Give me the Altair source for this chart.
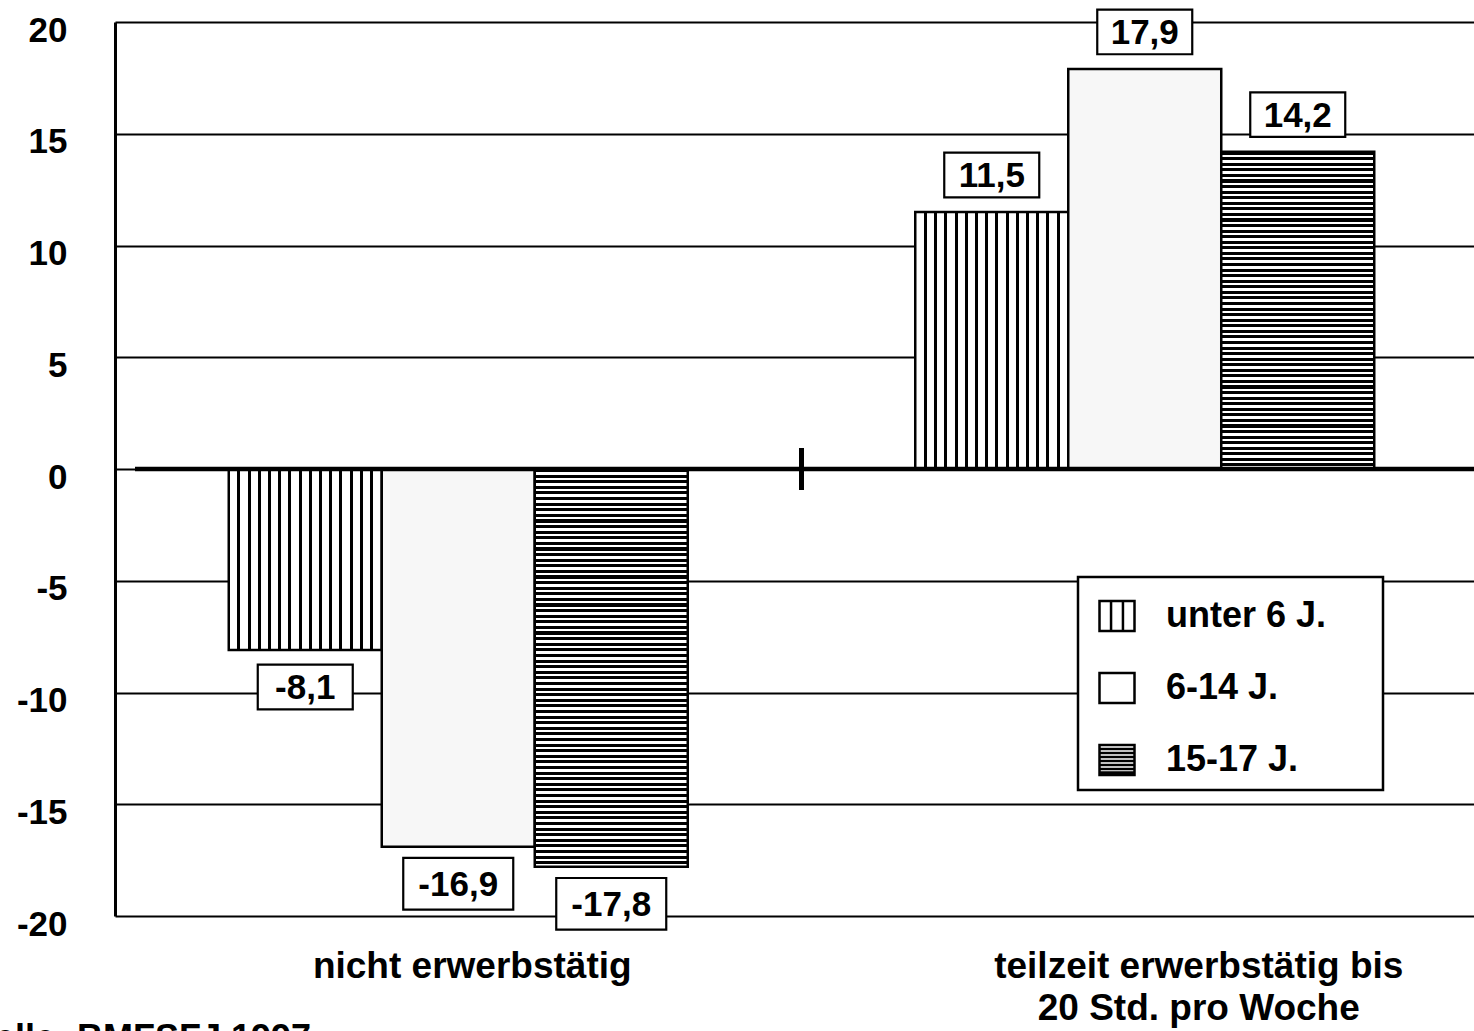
import altair as alt
import pandas as pd

# ---- data -------------------------------------------------------------
groups = ["nicht erwerbstätig", "teilzeit erwerbstätig bis\n20 Std. pro Woche"]
ages = ["unter 6 J.", "6-14 J.", "15-17 J."]
nicht_erwerbstaetig = [-8.1, -16.9, -17.8]
teilzeit_bis_20 = [11.5, 17.9, 14.2]
y_ticks = [-20, -15, -10, -5, 0, 5, 10, 15, 20]
source_note = "Quelle: BMFSFJ 1997"

rows = []
for g, vals in zip(groups, [nicht_erwerbstaetig, teilzeit_bis_20]):
    for a, v in zip(ages, vals):
        rows.append({"group": g, "age": a, "value": v,
                     "label": f"{v:.1f}".replace(".", ",")})
df = pd.DataFrame(rows)

# ---- layout -----------------------------------------------------------
FONT = "Liberation Sans"
PLOT_W, PLOT_H = 1359, 894
X_RANGE = 1373                # the frame runs a little past the right edge
PX_PER_UNIT = PLOT_H / 40.0


def vertical_stripes(n_lines=14, half=0.0098):
    stops = [alt.GradientStop(color="white", offset=0)]
    for k in range(1, n_lines + 1):
        c = k / (n_lines + 1)
        stops += [alt.GradientStop(color="white", offset=c - half),
                  alt.GradientStop(color="black", offset=c - half),
                  alt.GradientStop(color="black", offset=c + half),
                  alt.GradientStop(color="white", offset=c + half)]
    stops.append(alt.GradientStop(color="white", offset=1))
    return alt.LinearGradient(gradient="linear", stops=stops,
                              x1=0, y1=0, x2=1, y2=0)


def horizontal_stripes(value, spacing=5.6, dark=0.55):
    n = max(1, round(abs(value) * PX_PER_UNIT / spacing))
    stops = []
    for i in range(n):
        a, b, e = i / n, (i + dark) / n, (i + 1) / n
        stops += [alt.GradientStop(color="black", offset=a),
                  alt.GradientStop(color="black", offset=b),
                  alt.GradientStop(color="white", offset=b),
                  alt.GradientStop(color="white", offset=e)]
    return alt.LinearGradient(gradient="linear", stops=stops,
                              x1=0, y1=0, x2=0, y2=1)


x_scale = alt.Scale(domain=groups, range=[0, X_RANGE],
                    paddingInner=0, paddingOuter=0)
x_enc = alt.X("group:N", scale=x_scale, axis=None)
xo_enc = alt.XOffset("age:N", scale=alt.Scale(domain=ages, paddingInner=0,
                                                 paddingOuter=0.7435))
y_scale = alt.Scale(domain=[-20, 20], nice=False)
y_axis = alt.Axis(values=y_ticks, title=None, ticks=False, grid=True,
                  gridColor="black", gridWidth=1.8, gridOpacity=1,
                  domain=True, domainColor="black", domainWidth=3,
                  labelExpr="toString(datum.value)",
                  labelFont=FONT, labelFontSize=35, labelFontWeight="bold",
                  labelColor="black", labelPadding=48, labelOffset=8)
y_enc = alt.Y("value:Q", scale=y_scale, axis=y_axis)
enc = dict(x=x_enc, xOffset=xo_enc, y=y_enc)

base = alt.Chart(df)
bar_style = dict(stroke="black", strokeWidth=2.5)

bars_u6 = base.transform_filter(alt.datum.age == ages[0]).mark_bar(
    fill=vertical_stripes(), **bar_style).encode(**enc)
bars_614 = base.transform_filter(alt.datum.age == ages[1]).mark_bar(
    fill="#f7f7f7", **bar_style).encode(**enc)
bars_1517 = [
    base.transform_filter((alt.datum.age == ages[2]) & (alt.datum.group == g))
    .mark_bar(fill=horizontal_stripes(vals[2]), **bar_style).encode(**enc)
    for g, vals in zip(groups, [nicht_erwerbstaetig, teilzeit_bis_20])
]

# thick zero line (starting just right of the frame) and the group divider
zero_line = alt.Chart(pd.DataFrame({"k": [0]})).mark_rule(
    color="black", strokeWidth=4.5
).encode(x=alt.value(20), x2=alt.value(PLOT_W),
         y=alt.YDatum(0, scale=y_scale, axis=y_axis))

divider = alt.Chart(pd.DataFrame({"group": [groups[1]]})).mark_rule(
    color="black", strokeWidth=5, yOffset=-21, y2Offset=21
).encode(x=alt.X("group:N", scale=x_scale, axis=None, bandPosition=0),
         y=alt.YDatum(0, scale=y_scale, axis=y_axis), y2=alt.Y2Datum(0))

# boxed value labels
BOX = "M-1,-0.47L1,-0.47L1,0.47L-1,0.47Z"
label_layers = []
for test, off in [("datum.value < 0", 37), ("datum.value >= 0", -37)]:
    sub = base.transform_filter(test)
    box = sub.transform_calculate(
        bw="pow(15 * length(datum.label) + 35, 2)"
    ).mark_point(shape=BOX, filled=True, fill="white", stroke="black",
                 strokeWidth=2.2, opacity=1, yOffset=off
    ).encode(size=alt.Size("bw:Q", scale=None), **enc)
    txt = sub.mark_text(font=FONT, fontSize=35, fontWeight="bold",
                        color="black", baseline="middle", dy=off + 1
    ).encode(text="label:N", **enc)
    label_layers += [box, txt]

# legend: white framed box with patterned swatches
legend_frame = alt.Chart(pd.DataFrame({"k": [0]})).mark_rect(
    fill="white", stroke="black", strokeWidth=2.5
).encode(x=alt.value(963), x2=alt.value(1268),
         y=alt.value(555), y2=alt.value(768))

SW = "M-1,-0.857L1,-0.857L1,0.857L-1,0.857Z"
sw_vertical = SW + "".join(f"M{x},-0.857L{x},0.857" for x in (-0.34, 0.34))
sw_plain = SW
sw_horizontal = SW + "".join(
    f"M-1,{y}L1,{y}" for y in (-0.63, -0.4, -0.17, 0.06, 0.29, 0.52, 0.71))

# a layer with no rows whose only job is to carry the shape legend
legend_layer = base.transform_filter("false").mark_point(
    filled=False, color="black", strokeWidth=2, opacity=1
).encode(
    shape=alt.Shape("age:N",
                    scale=alt.Scale(domain=ages,
                                    range=[sw_vertical, sw_plain, sw_horizontal]),
                    legend=alt.Legend(
                        title=None, orient="none", legendX=963, legendY=555,
                        padding=20, rowPadding=32, labelOffset=30,
                        symbolSize=1225, symbolStrokeWidth=2.5,
                        symbolStrokeColor="black", symbolOpacity=1,
                        labelFont=FONT, labelFontSize=36,
                        labelFontWeight="bold", labelColor="black",
                        labelLimit=400)),
    **enc)

# category labels under the plot
cat_labels = [
    alt.Chart(pd.DataFrame({"group": [g]})).mark_text(
        font=FONT, fontSize=37, fontWeight="bold", color="black",
        baseline="alphabetic", align="center", lineBreak="\n",
        lineHeight=42, dx=dx
    ).encode(x=x_enc, y=alt.value(956), text="group:N")
    for g, dx in zip(groups, [14, 54])
]

source = alt.Chart(pd.DataFrame({"t": [source_note]})).mark_text(
    font=FONT, fontSize=36, fontWeight="bold", color="black",
    align="left", baseline="alphabetic"
).encode(x=alt.value(-170), y=alt.value(1028), text="t:N")

chart = alt.layer(
    bars_u6, bars_614, *bars_1517, zero_line, divider, *label_layers,
    legend_frame, legend_layer, *cat_labels, source
).properties(
    width=PLOT_W, height=PLOT_H, autosize="none",
    padding={"left": 115, "top": 22, "right": 0, "bottom": 115},
    background="white"
).configure_view(stroke=None)

chart.save("out.html", embed_options={"renderer": "svg", "actions": False})
